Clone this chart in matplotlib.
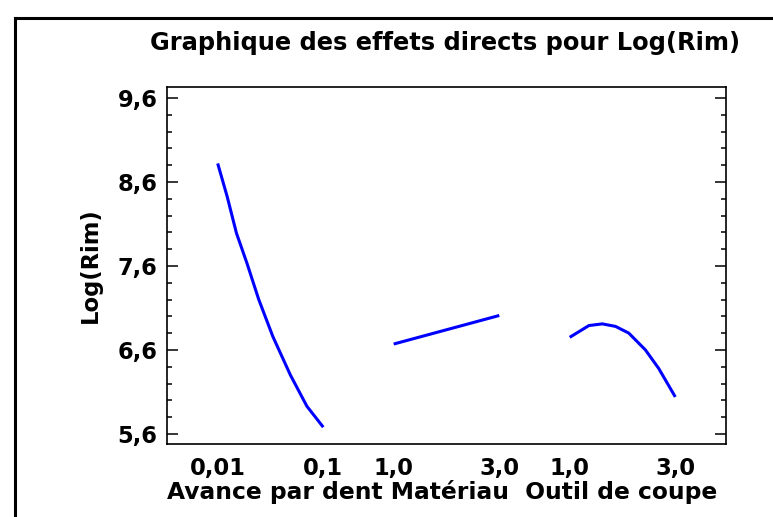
import numpy as np
import matplotlib
matplotlib.use("Agg")
import matplotlib.pyplot as plt
from matplotlib.lines import Line2D
from matplotlib.ticker import FixedLocator

plt.rcParams['font.family'] = ['DejaVu Sans']
plt.rcParams['font.weight'] = 'bold'

# Main effects: each factor swept from its low to its high level
feed_rate = [0.010, 0.018, 0.026, 0.035, 0.045, 0.057, 0.072, 0.086, 0.100]
feed_effect = [8.82, 8.43, 7.99, 7.63, 7.20, 6.76, 6.30, 5.93, 5.68]

material = [1.0, 2.0, 3.0]
material_effect = [6.67, 6.84, 7.01]

tool = [1.0, 1.364, 1.617, 1.868, 2.119, 2.434, 2.685, 3.0]
tool_effect = [6.75, 6.89, 6.91, 6.88, 6.80, 6.60, 6.38, 6.04]

factor_names = ["Avance par dent", "Matériau", "Outil de coupe"]
level_labels = [("0,01", "0,1"), ("1,0", "3,0"), ("1,0", "3,0")]
level_ranges = [(0.01, 0.1), (1.0, 3.0), (1.0, 3.0)]

y_major = [5.6, 6.6, 7.6, 8.6, 9.6]

# each factor gets its own segment on a shared horizontal axis
seg_width = 1.5
seg_gap = 1.0
seg_starts = [i * (seg_width + seg_gap) for i in range(3)]


def to_axis(values, k):
    lo, hi = level_ranges[k]
    v = np.asarray(values, dtype=float)
    return seg_starts[k] + (v - lo) / (hi - lo) * seg_width


W, H = 773, 517
fig = plt.figure(figsize=(W / 100, H / 100), dpi=100)
ax_left, ax_right, ax_top, ax_bottom = 166.5, 726.0, 87.0, 444.0
ax = fig.add_axes([ax_left / W, 1 - ax_bottom / H,
                   (ax_right - ax_left) / W, (ax_bottom - ax_top) / H])

series = [(feed_rate, feed_effect), (material, material_effect), (tool, tool_effect)]
for k, (xs, ys) in enumerate(series):
    ax.plot(to_axis(xs, k), ys, color='#0000FF', lw=2.2,
            solid_capstyle='butt', solid_joinstyle='round')

ax.set_xlim(-0.727, 7.22)
ax.set_ylim(5.48, 9.73)

# y ticks: majors every 1.0, minors every 0.2, pointing inward on both sides
ax.yaxis.set_major_locator(FixedLocator(y_major))
ax.yaxis.set_minor_locator(FixedLocator(np.arange(5.6, 9.61, 0.2)))
ax.set_yticklabels([f"{v:.1f}".replace('.', ',') for v in y_major])
ax.tick_params(axis='y', which='major', direction='in', length=7.7, width=1.1,
               left=True, right=True, labelsize=16.3, pad=6.5)
ax.tick_params(axis='y', which='minor', direction='in', length=3.8, width=1.1,
               left=True, right=True)

# x ticks: level labels at each segment end, no tick marks
xt, xl = [], []
for k in range(3):
    lo, hi = level_ranges[k]
    xt += list(to_axis([lo, hi], k))
    xl += list(level_labels[k])
ax.set_xticks(xt)
ax.set_xticklabels(xl)
ax.tick_params(axis='x', length=0, labelsize=16.3, pad=9.5)

for sp in ax.spines.values():
    sp.set_linewidth(1.2)

ax.set_ylabel("Log(Rim)", fontsize=16.3, fontweight='bold')
ax.yaxis.set_label_coords(-(ax_left - 102) / (ax_right - ax_left), 0.5)

# factor names under their segments, one row
fig.text(442.5 / W, 1 - 492 / H, "  ".join([" ".join([factor_names[0], factor_names[1]]),
                                             factor_names[2]]),
         ha='center', va='center', fontsize=16.8, fontweight='bold')

fig.text(445 / W, 1 - 43 / H, "Graphique des effets directs pour Log(Rim)",
         ha='center', va='center', fontsize=17.4, fontweight='bold')

# outer frame
fig.add_artist(Line2D([15 / W, 15 / W], [0, 1 - 18 / H], transform=fig.transFigure,
                      color='black', lw=2.2))
fig.add_artist(Line2D([15 / W, 1], [1 - 18 / H, 1 - 18 / H], transform=fig.transFigure,
                      color='black', lw=2.2))

fig.savefig("out.png", dpi=100)
